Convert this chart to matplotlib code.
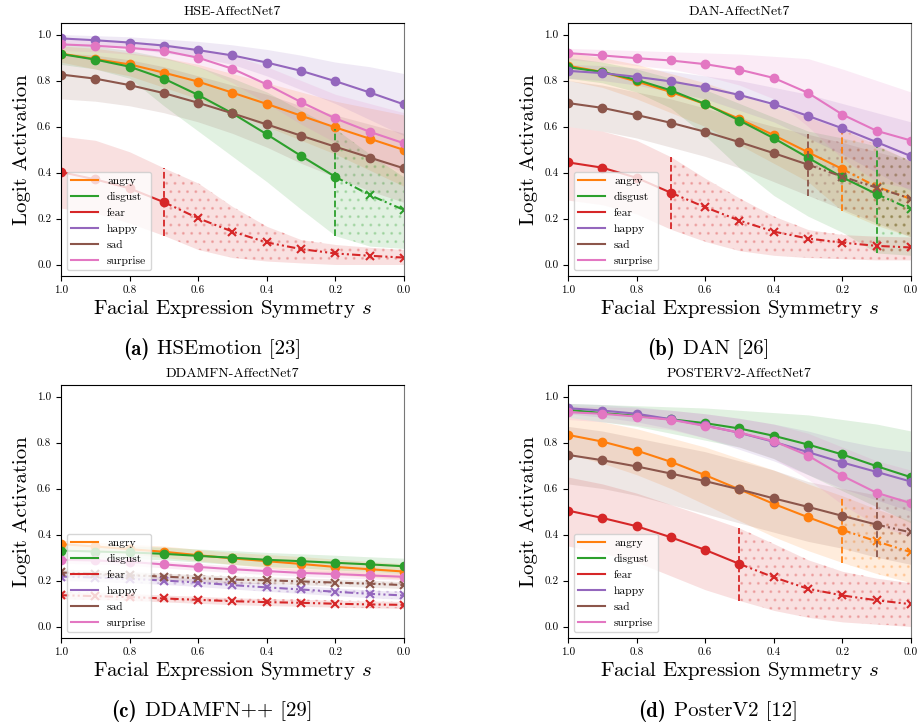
import numpy as np
import matplotlib
matplotlib.use('Agg')
import matplotlib.pyplot as plt
from matplotlib.lines import Line2D

plt.rcParams['font.family'] = 'serif'
plt.rcParams['font.serif'] = ['cmr10', 'DejaVu Serif']
plt.rcParams['mathtext.fontset'] = 'cm'
plt.rcParams['axes.formatter.use_mathtext'] = True
plt.rcParams['axes.unicode_minus'] = False
plt.rcParams['hatch.linewidth'] = 1.0

s_vals = [1.0, 0.9, 0.8, 0.7, 0.6, 0.5, 0.4, 0.3, 0.2, 0.1, 0.0]
emotions = ['angry', 'disgust', 'fear', 'happy', 'sad', 'surprise']
colors = {'angry': '#ff7f0e', 'disgust': '#2ca02c', 'fear': '#d62728',
          'happy': '#9467bd', 'sad': '#8c564b', 'surprise': '#e377c2'}

# HSEmotion
hse_mean = {
    'angry':    [0.917, 0.893, 0.870, 0.834, 0.795, 0.747, 0.698, 0.647, 0.596, 0.547, 0.498],
    'disgust':  [0.915, 0.891, 0.860, 0.808, 0.737, 0.657, 0.566, 0.472, 0.381, 0.302, 0.237],
    'fear':     [0.402, 0.370, 0.331, 0.271, 0.201, 0.143, 0.096, 0.067, 0.048, 0.038, 0.030],
    'happy':    [0.983, 0.975, 0.965, 0.952, 0.932, 0.909, 0.878, 0.842, 0.797, 0.748, 0.696],
    'sad':      [0.826, 0.808, 0.780, 0.745, 0.703, 0.657, 0.609, 0.560, 0.512, 0.465, 0.418],
    'surprise': [0.957, 0.951, 0.942, 0.929, 0.899, 0.851, 0.783, 0.706, 0.635, 0.577, 0.527],
}
hse_lo = {
    'angry':    [0.88, 0.85, 0.82, 0.77, 0.72, 0.66, 0.60, 0.54, 0.48, 0.41, 0.34],
    'disgust':  [0.87, 0.85, 0.81, 0.69, 0.58, 0.47, 0.36, 0.24, 0.125, 0.08, 0.07],
    'fear':     [0.245, 0.224, 0.18, 0.126, 0.065, 0.03, 0.015, 0.007, 0.0, 0.0, 0.0],
    'happy':    [0.955, 0.95, 0.94, 0.92, 0.90, 0.87, 0.82, 0.76, 0.70, 0.63, 0.56],
    'sad':      [0.72, 0.71, 0.69, 0.66, 0.62, 0.57, 0.51, 0.44, 0.38, 0.32, 0.27],
    'surprise': [0.93, 0.925, 0.915, 0.895, 0.86, 0.79, 0.70, 0.61, 0.53, 0.46, 0.40],
}
hse_hi = {
    'angry':    [0.95, 0.94, 0.92, 0.90, 0.87, 0.83, 0.79, 0.75, 0.71, 0.68, 0.65],
    'disgust':  [0.96, 0.95, 0.93, 0.90, 0.86, 0.81, 0.75, 0.67, 0.59, 0.48, 0.38],
    'fear':     [0.558, 0.54, 0.49, 0.42, 0.354, 0.252, 0.166, 0.108, 0.087, 0.075, 0.065],
    'happy':    [1.0, 0.995, 0.99, 0.98, 0.97, 0.955, 0.935, 0.91, 0.88, 0.86, 0.83],
    'sad':      [0.92, 0.91, 0.89, 0.86, 0.82, 0.78, 0.74, 0.69, 0.65, 0.61, 0.57],
    'surprise': [0.98, 0.975, 0.97, 0.96, 0.94, 0.91, 0.86, 0.80, 0.74, 0.70, 0.66],
}
hse_switch = {'fear': 3, 'disgust': 8}

# DAN
dan_mean = {
    'angry':    [0.864, 0.837, 0.796, 0.750, 0.697, 0.633, 0.562, 0.488, 0.415, 0.338, 0.285],
    'disgust':  [0.858, 0.837, 0.803, 0.757, 0.698, 0.626, 0.549, 0.464, 0.379, 0.306, 0.240],
    'fear':     [0.444, 0.421, 0.377, 0.312, 0.249, 0.191, 0.143, 0.113, 0.095, 0.081, 0.074],
    'happy':    [0.842, 0.832, 0.816, 0.796, 0.770, 0.737, 0.697, 0.646, 0.592, 0.532, 0.471],
    'sad':      [0.702, 0.681, 0.650, 0.616, 0.577, 0.532, 0.484, 0.434, 0.382, 0.334, 0.286],
    'surprise': [0.919, 0.909, 0.897, 0.887, 0.871, 0.847, 0.811, 0.746, 0.652, 0.581, 0.539],
}
dan_lo = {
    'angry':    [0.80, 0.77, 0.72, 0.66, 0.60, 0.52, 0.44, 0.36, 0.233, 0.17, 0.12],
    'disgust':  [0.81, 0.79, 0.75, 0.68, 0.56, 0.42, 0.30, 0.21, 0.14, 0.05, 0.04],
    'fear':     [0.28, 0.26, 0.22, 0.153, 0.10, 0.06, 0.04, 0.03, 0.025, 0.02, 0.02],
    'happy':    [0.81, 0.80, 0.78, 0.75, 0.72, 0.67, 0.62, 0.55, 0.48, 0.40, 0.32],
    'sad':      [0.60, 0.58, 0.55, 0.51, 0.47, 0.42, 0.36, 0.30, 0.24, 0.18, 0.12],
    'surprise': [0.89, 0.88, 0.865, 0.85, 0.82, 0.78, 0.72, 0.60, 0.46, 0.36, 0.33],
}
dan_hi = {
    'angry':    [0.92, 0.90, 0.87, 0.83, 0.79, 0.74, 0.69, 0.64, 0.587, 0.52, 0.45],
    'disgust':  [0.90, 0.88, 0.85, 0.81, 0.76, 0.70, 0.64, 0.58, 0.55, 0.515, 0.45],
    'fear':     [0.60, 0.58, 0.54, 0.468, 0.375, 0.289, 0.21, 0.152, 0.13, 0.123, 0.12],
    'happy':    [0.87, 0.865, 0.855, 0.84, 0.82, 0.80, 0.77, 0.74, 0.70, 0.66, 0.62],
    'sad':      [0.80, 0.78, 0.75, 0.72, 0.68, 0.64, 0.60, 0.566, 0.53, 0.49, 0.45],
    'surprise': [0.94, 0.935, 0.93, 0.925, 0.92, 0.915, 0.905, 0.895, 0.85, 0.80, 0.75],
}
dan_switch = {'fear': 3, 'sad': 7, 'angry': 8, 'disgust': 9}

# DDAMFN++
ddamfn_mean = {
    'angry':    [0.358, 0.348, 0.336, 0.325, 0.310, 0.296, 0.284, 0.272, 0.259, 0.249, 0.239],
    'disgust':  [0.330, 0.326, 0.322, 0.316, 0.307, 0.299, 0.290, 0.284, 0.277, 0.270, 0.262],
    'fear':     [0.136, 0.132, 0.128, 0.122, 0.116, 0.110, 0.106, 0.103, 0.099, 0.096, 0.094],
    'happy':    [0.217, 0.213, 0.207, 0.200, 0.191, 0.180, 0.170, 0.161, 0.151, 0.142, 0.135],
    'sad':      [0.235, 0.229, 0.223, 0.217, 0.210, 0.204, 0.201, 0.196, 0.191, 0.186, 0.180],
    'surprise': [0.290, 0.287, 0.281, 0.270, 0.259, 0.249, 0.241, 0.233, 0.228, 0.222, 0.216],
}
ddamfn_lo = {
    'angry':    [0.34, 0.33, 0.315, 0.30, 0.285, 0.27, 0.255, 0.24, 0.225, 0.215, 0.205],
    'disgust':  [0.305, 0.30, 0.295, 0.29, 0.28, 0.27, 0.26, 0.255, 0.245, 0.24, 0.23],
    'fear':     [0.12, 0.117, 0.113, 0.107, 0.101, 0.095, 0.091, 0.088, 0.084, 0.081, 0.079],
    'happy':    [0.20, 0.196, 0.19, 0.183, 0.174, 0.163, 0.153, 0.144, 0.134, 0.125, 0.118],
    'sad':      [0.22, 0.214, 0.208, 0.202, 0.195, 0.189, 0.186, 0.181, 0.176, 0.171, 0.165],
    'surprise': [0.275, 0.272, 0.266, 0.255, 0.244, 0.234, 0.226, 0.218, 0.213, 0.207, 0.201],
}
ddamfn_hi = {
    'angry':    [0.375, 0.366, 0.357, 0.35, 0.335, 0.322, 0.313, 0.304, 0.293, 0.283, 0.273],
    'disgust':  [0.355, 0.352, 0.35, 0.345, 0.337, 0.33, 0.322, 0.316, 0.31, 0.303, 0.297],
    'fear':     [0.152, 0.147, 0.143, 0.137, 0.131, 0.125, 0.121, 0.118, 0.114, 0.111, 0.109],
    'happy':    [0.234, 0.23, 0.224, 0.217, 0.208, 0.197, 0.187, 0.178, 0.168, 0.159, 0.152],
    'sad':      [0.25, 0.244, 0.238, 0.232, 0.225, 0.219, 0.216, 0.211, 0.206, 0.201, 0.195],
    'surprise': [0.305, 0.302, 0.296, 0.285, 0.274, 0.264, 0.256, 0.248, 0.243, 0.237, 0.231],
}
ddamfn_switch = {'fear': -1, 'happy': -1, 'sad': -1}

# POSTER V2
poster_mean = {
    'angry':    [0.833, 0.804, 0.765, 0.716, 0.658, 0.596, 0.533, 0.475, 0.420, 0.370, 0.323],
    'disgust':  [0.942, 0.928, 0.916, 0.901, 0.884, 0.861, 0.829, 0.791, 0.748, 0.697, 0.649],
    'fear':     [0.504, 0.472, 0.436, 0.388, 0.333, 0.272, 0.214, 0.164, 0.135, 0.114, 0.097],
    'happy':    [0.949, 0.939, 0.925, 0.901, 0.874, 0.842, 0.803, 0.758, 0.713, 0.672, 0.630],
    'sad':      [0.746, 0.723, 0.696, 0.665, 0.632, 0.596, 0.557, 0.520, 0.481, 0.443, 0.409],
    'surprise': [0.932, 0.925, 0.913, 0.899, 0.872, 0.843, 0.806, 0.743, 0.655, 0.581, 0.536],
}
poster_lo = {
    'angry':    [0.75, 0.71, 0.66, 0.60, 0.53, 0.46, 0.39, 0.33, 0.278, 0.23, 0.19],
    'disgust':  [0.91, 0.89, 0.87, 0.84, 0.81, 0.78, 0.73, 0.66, 0.59, 0.52, 0.45],
    'fear':     [0.35, 0.32, 0.28, 0.22, 0.16, 0.113, 0.07, 0.04, 0.02, 0.01, 0.0],
    'happy':    [0.925, 0.91, 0.89, 0.86, 0.82, 0.77, 0.72, 0.66, 0.60, 0.55, 0.50],
    'sad':      [0.62, 0.60, 0.57, 0.53, 0.49, 0.45, 0.41, 0.37, 0.34, 0.301, 0.27],
    'surprise': [0.90, 0.89, 0.875, 0.855, 0.82, 0.78, 0.73, 0.64, 0.53, 0.44, 0.39],
}
poster_hi = {
    'angry':    [0.91, 0.89, 0.86, 0.82, 0.78, 0.73, 0.68, 0.62, 0.568, 0.51, 0.46],
    'disgust':  [0.97, 0.965, 0.96, 0.955, 0.95, 0.94, 0.93, 0.92, 0.90, 0.88, 0.85],
    'fear':     [0.65, 0.62, 0.58, 0.53, 0.48, 0.428, 0.36, 0.29, 0.24, 0.21, 0.19],
    'happy':    [0.97, 0.965, 0.955, 0.94, 0.925, 0.905, 0.88, 0.85, 0.81, 0.78, 0.76],
    'sad':      [0.87, 0.85, 0.82, 0.79, 0.76, 0.72, 0.68, 0.63, 0.60, 0.572, 0.55],
    'surprise': [0.96, 0.955, 0.95, 0.94, 0.925, 0.905, 0.88, 0.84, 0.78, 0.72, 0.68],
}
poster_switch = {'fear': 5, 'angry': 8, 'sad': 9}

panels = [
    ('HSE-AffectNet7', '(a)', 'HSEmotion [23]', hse_mean, hse_lo, hse_hi, hse_switch),
    ('DAN-AffectNet7', '(b)', 'DAN [26]', dan_mean, dan_lo, dan_hi, dan_switch),
    ('DDAMFN-AffectNet7', '(c)', 'DDAMFN++ [29]', ddamfn_mean, ddamfn_lo, ddamfn_hi, ddamfn_switch),
    ('POSTERV2-AffectNet7', '(d)', 'PosterV2 [12]', poster_mean, poster_lo, poster_hi, poster_switch),
]

W, H = 920, 727
# axes boxes in pixels: left, top, right, bottom
boxes = [(61, 23, 404, 276), (568, 23, 911, 276), (61, 385, 404, 638), (568, 385, 911, 638)]
caption_pos = [(212, 349), (708, 349), (212, 711), (718, 711)]

dashdotdot = (0, (4, 1.5, 1, 1.5, 1, 1.5))

fig = plt.figure(figsize=(W / 100, H / 100), dpi=100)
renderer = fig.canvas.get_renderer()

for (title, tag, caption, mean, lo, hi, switch), box, cpos in zip(panels, boxes, caption_pos):
    l, t, r, b = box
    ax = fig.add_axes([l / W, 1 - b / H, (r - l) / W, (b - t) / H])
    for emo in emotions:
        c = colors[emo]
        m, lw_, hi_ = mean[emo], lo[emo], hi[emo]
        ax.fill_between(s_vals, lw_, hi_, color=c, alpha=0.14, lw=0)
        k = switch.get(emo)
        if k is None:
            ax.plot(s_vals, m, '-o', color=c, lw=1.5, ms=6)
            continue
        start = max(k, 0)
        if k >= 0:
            ax.plot(s_vals[:k + 1], m[:k + 1], '-o', color=c, lw=1.5, ms=6)
            ax.vlines(s_vals[k], lw_[k], hi_[k], colors=c, linestyles='--', lw=1.3)
        ax.plot(s_vals[start:], m[start:], color=c, lw=1.5, linestyle=dashdotdot)
        first_x = k + 1 if k >= 0 else 0
        ax.plot(s_vals[first_x:], m[first_x:], 'x', color=c, ms=6, mew=1.5)
        ax.fill_between(s_vals[start:], lw_[start:], hi_[start:], facecolor='none',
                        edgecolor=c, hatch='..', lw=0, alpha=0.22)

    ax.set_xlim(1.0, 0.0)
    ax.set_ylim(-0.05, 1.05)
    ax.set_xticks([1.0, 0.8, 0.6, 0.4, 0.2, 0.0])
    ax.set_yticks([0.0, 0.2, 0.4, 0.6, 0.8, 1.0])
    ax.xaxis.set_major_formatter(matplotlib.ticker.FormatStrFormatter('%.1f'))
    ax.yaxis.set_major_formatter(matplotlib.ticker.FormatStrFormatter('%.1f'))
    ax.tick_params(labelsize=8)
    ax.spines['right'].set_color('#777777')
    ax.set_title(title, fontsize=10)
    ax.set_xlabel(r'Facial Expression Symmetry $s$', fontsize=15, labelpad=2)
    ax.set_ylabel('Logit Activation', fontsize=15)

    handles = [Line2D([0], [0], color=colors[e], lw=1.5) for e in emotions]
    ax.legend(handles, emotions, loc='lower left', fontsize=8.3, handlelength=2.3)

    # subfigure caption: bold tag followed by the model name, centred as a whole
    t1 = fig.text(0, 0, tag, fontsize=15, family='cmb10', va='center')
    t2 = fig.text(0, 0, caption, fontsize=15, va='center')
    w1 = t1.get_window_extent(renderer).width
    w2 = t2.get_window_extent(renderer).width
    gap = 8
    x0 = cpos[0] - (w1 + gap + w2) / 2
    t1.set_position((x0 / W, 1 - cpos[1] / H))
    t2.set_position(((x0 + w1 + gap) / W, 1 - cpos[1] / H))

fig.savefig('out.png', dpi=100)
